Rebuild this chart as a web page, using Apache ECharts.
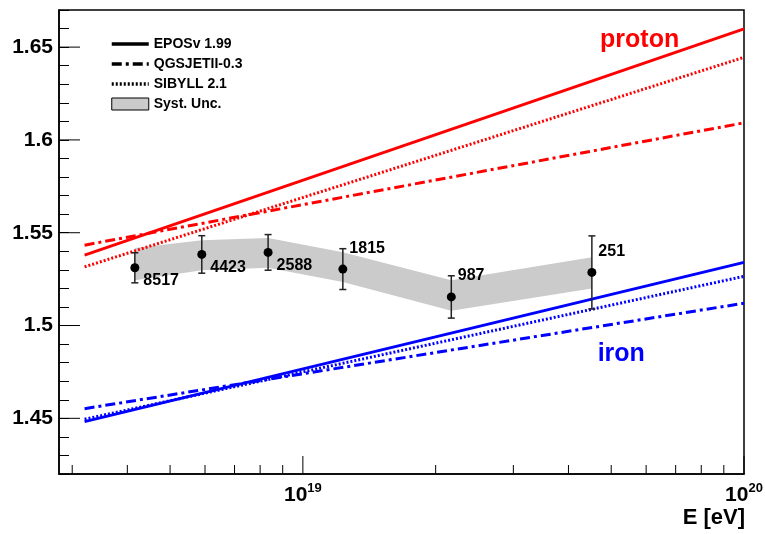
<!DOCTYPE html>
<html><head><meta charset="utf-8">
<script src="https://cdn.jsdelivr.net/npm/echarts@6/dist/echarts.min.js"></script>
<style>html,body{margin:0;padding:0;background:#fff}#chart{width:765px;height:534px}</style>
</head><body><div id="chart"></div>
<script>
const FONT = '"Liberation Sans", Arial, Helvetica, sans-serif';

// Measured data points
const energies    = [4.16e18, 5.9e18, 8.34e18, 1.232e19, 2.17e19, 4.52e19];
const meanValues  = [1.5311, 1.5383, 1.5394, 1.5304, 1.5154, 1.5286];
const statErrors  = [0.0081, 0.0101, 0.0096, 0.0110, 0.0114, 0.0197];
const eventCounts = ['8517', '4423', '2588', '1815', '987', '251'];
const systUpper   = [1.5417, 1.5460, 1.5471, 1.5395, 1.5244, 1.5368];
const systLower   = [1.5244, 1.5298, 1.5311, 1.5234, 1.5079, 1.5200];

// Model predictions (straight lines in lg E), start and end values
const modelEnergies = [3.2e18, 1e20];
const protonEPOS    = [1.5379, 1.6598];
const protonQGSJET  = [1.5433, 1.6092];
const protonSIBYLL  = [1.5316, 1.6445];
const ironEPOS      = [1.4482, 1.5340];
const ironQGSJET    = [1.4552, 1.5120];
const ironSIBYLL    = [1.4495, 1.5265];

// Axes
const xMin = 2.8e18, xMax = 1e20;
const yMin = 1.42, yMax = 1.67;
const yMajorTicks = [1.45, 1.5, 1.55, 1.6, 1.65];
const xMajorTicks = [1e19, 1e20];
const xMinorTicks = [3e18, 4e18, 5e18, 6e18, 7e18, 8e18, 9e18, 2e19, 3e19, 4e19, 5e19, 6e19, 7e19, 8e19, 9e19];
const xAxisTitle = 'E [eV]';

// Annotations
const annotations = [
  { text: 'proton', E: 5.8e19, y: 1.6539, color: '#ff0000' },
  { text: 'iron',   E: 5.27e19, y: 1.4845, color: '#0000ff' }
];

const legendNames = ['EPOSv 1.99', 'QGSJETII-0.3', 'SIBYLL 2.1', 'Syst. Unc.'];

const RED = '#ff0000', BLUE = '#0000ff';
const DASHDOT = [10, 4, 3, 4];
const DOTTED = [2, 2];

function modelLine(name, values, color, type) {
  return {
    type: 'line', name: name,
    data: modelEnergies.map((e, i) => [e, values[i]]),
    symbol: 'none', silent: true, z: 3,
    lineStyle: { color: color, width: 3, type: type, cap: 'butt' }
  };
}
function legendDummy(name, type) {
  return {
    type: 'line', name: name, data: [], symbol: 'none',
    itemStyle: { color: '#000' },
    lineStyle: { color: '#000', width: 3, type: type, cap: 'butt' }
  };
}
function tickSeries(data, dx, dy) {
  return {
    type: 'custom', silent: true, clip: false, z: 10,
    data: data,
    renderItem: function (params, api) {
      const p = api.coord([api.value(0), api.value(1)]);
      return { type: 'line', shape: { x1: p[0], y1: p[1], x2: p[0] + dx, y2: p[1] + dy },
               style: { stroke: '#000', lineWidth: 1 } };
    }
  };
}

const hiddenSymbol = { opacity: 0, color: 'transparent', borderWidth: 0 };

const chart = echarts.init(document.getElementById('chart'));
chart.setOption({
  animation: false,
  backgroundColor: '#fff',
  textStyle: { fontFamily: FONT },
  grid: { left: 59, right: 21, top: 10, bottom: 60, outerBoundsMode: 'none', containLabel: false,
          show: true, borderColor: '#000', borderWidth: 1.5, backgroundColor: 'transparent' },
  legend: {
    data: [
      { name: legendNames[0], itemStyle: hiddenSymbol },
      { name: legendNames[1], itemStyle: hiddenSymbol },
      { name: legendNames[2], itemStyle: hiddenSymbol },
      { name: legendNames[3], icon: 'rect', itemStyle: { color: '#cbcbcb', borderColor: '#000', borderWidth: 1 } }
    ],
    orient: 'vertical', left: 110, top: 37, padding: 0, itemWidth: 37, itemHeight: 12, itemGap: 6,
    selectedMode: false,
    lineStyle: { width: 3.5 },
    textStyle: { fontFamily: FONT, fontWeight: 'bold', fontSize: 14, color: '#000' }
  },
  xAxis: {
    type: 'log', logBase: 10, min: xMin, max: xMax,
    axisLine: { show: true, lineStyle: { color: '#000', width: 1.5 } },
    axisTick: { show: false }, splitLine: { show: false }, minorTick: { show: false },
    axisLabel: {
      margin: 8, color: '#000',
      formatter: function (v) {
        const l = Math.log10(v), r = Math.round(l);
        return Math.abs(l - r) < 1e-6 ? '{b|10}{s|' + r + '}' : '';
      },
      rich: {
        b: { fontFamily: FONT, fontWeight: 'bold', fontSize: 21, lineHeight: 24, verticalAlign: 'bottom', color: '#000' },
        s: { fontFamily: FONT, fontWeight: 'bold', fontSize: 13, lineHeight: 13, verticalAlign: 'top', color: '#000' }
      }
    }
  },
  yAxis: {
    type: 'value', min: yMin, max: yMax, interval: 0.01,
    axisLine: { show: true, lineStyle: { color: '#000', width: 1.5 } },
    axisTick: { show: true, inside: true, length: 10, lineStyle: { color: '#000', width: 1 } },
    splitLine: { show: false },
    axisLabel: {
      margin: 6, color: '#000', fontFamily: FONT, fontWeight: 'bold', fontSize: 21,
      formatter: function (v) {
        const k = Math.round(v * 100);
        return k % 5 === 0 ? String(+(k / 100).toFixed(2)) : '';
      }
    }
  },
  graphic: [{
    type: 'text', right: 20, top: 507, z: 20,
    style: { text: xAxisTitle, fill: '#000', font: 'bold 22px ' + FONT }
  }],
  series: [
    // systematic band
    {
      type: 'custom', name: 'Syst. Unc.', z: 2, silent: true,
      itemStyle: { color: '#cbcbcb' },
      data: energies.map((e, i) => [e, meanValues[i]]),
      renderItem: function (params, api) {
        if (params.dataIndex !== 0) return null;
        const pts = [];
        for (let i = 0; i < energies.length; i++) pts.push(api.coord([energies[i], systUpper[i]]));
        for (let i = energies.length - 1; i >= 0; i--) pts.push(api.coord([energies[i], systLower[i]]));
        return { type: 'polygon', shape: { points: pts }, style: { fill: '#cbcbcb' } };
      }
    },
    modelLine('proton EPOS', protonEPOS, RED, 'solid'),
    modelLine('proton QGSJET', protonQGSJET, RED, DASHDOT),
    modelLine('proton SIBYLL', protonSIBYLL, RED, DOTTED),
    modelLine('iron EPOS', ironEPOS, BLUE, 'solid'),
    modelLine('iron QGSJET', ironQGSJET, BLUE, DASHDOT),
    modelLine('iron SIBYLL', ironSIBYLL, BLUE, DOTTED),
    legendDummy(legendNames[0], 'solid'),
    legendDummy(legendNames[1], DASHDOT),
    legendDummy(legendNames[2], DOTTED),
    // error bars
    {
      type: 'custom', silent: true, z: 5,
      data: energies.map((e, i) => [e, meanValues[i] - statErrors[i], meanValues[i] + statErrors[i]]),
      encode: { x: 0, y: [1, 2] },
      renderItem: function (params, api) {
        const lo = api.coord([api.value(0), api.value(1)]);
        const hi = api.coord([api.value(0), api.value(2)]);
        const st = { stroke: '#222', lineWidth: 1.5 };
        return { type: 'group', children: [
          { type: 'line', shape: { x1: lo[0], y1: lo[1], x2: hi[0], y2: hi[1] }, style: st },
          { type: 'line', shape: { x1: lo[0] - 3.5, y1: lo[1], x2: lo[0] + 3.5, y2: lo[1] }, style: st },
          { type: 'line', shape: { x1: hi[0] - 3.5, y1: hi[1], x2: hi[0] + 3.5, y2: hi[1] }, style: st }
        ] };
      }
    },
    // data points with event counts
    {
      type: 'scatter', silent: true, z: 6, symbol: 'circle', symbolSize: 9,
      itemStyle: { color: '#000', opacity: 1 },
      data: energies.map((e, i) => ({
        value: [e, meanValues[i]],
        label: { offset: i < 3 ? [2, 13] : [0, -21] }
      })),
      label: {
        show: true, position: 'right', distance: 2,
        formatter: p => eventCounts[p.dataIndex],
        fontFamily: FONT, fontWeight: 'bold', fontSize: 16, color: '#000', opacity: 1
      }
    },
    // proton / iron annotations
    {
      type: 'scatter', silent: true, z: 7, symbolSize: 0,
      data: annotations.map(a => ({
        value: [a.E, a.y],
        label: { color: a.color }
      })),
      label: {
        show: true, position: 'inside', opacity: 1,
        formatter: p => annotations[p.dataIndex].text,
        fontFamily: FONT, fontWeight: 'bold', fontSize: 25
      }
    },
    tickSeries(xMinorTicks.map(v => [v, yMin]), 0, -9),
    tickSeries(xMajorTicks.map(v => [v, yMin]), 0, -18),
    tickSeries(yMajorTicks.map(v => [xMin, v]), 21, 0)
  ]
});
</script></body></html>
